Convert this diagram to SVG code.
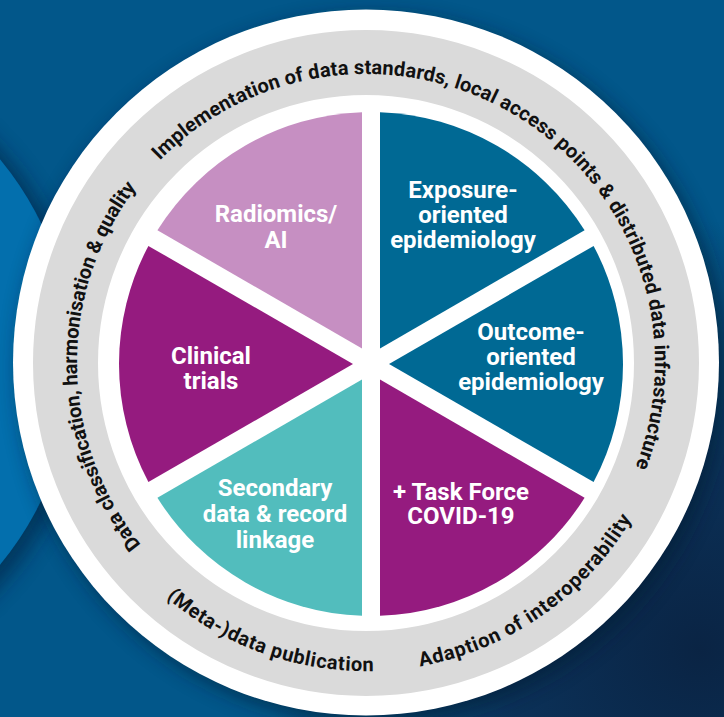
<svg xmlns="http://www.w3.org/2000/svg" width="724" height="717" viewBox="0 0 724 717">
<defs>
<style>
.slice-label{font-family:Roboto,"Liberation Sans",sans-serif;font-weight:700;font-size:24px;fill:#ffffff;text-anchor:middle}
.ring-label{font-family:Roboto,"Liberation Sans",sans-serif;font-weight:700;font-size:20px;fill:#111111;text-anchor:middle}
.ring{fill:none;stroke:#dadada;stroke-width:65}
</style>
<radialGradient id="dark" cx="700" cy="650" r="430" gradientUnits="userSpaceOnUse">
<stop offset="0" stop-color="#0a2444"/>
<stop offset="0.45" stop-color="#0b3158"/>
<stop offset="1" stop-color="#0b3158" stop-opacity="0"/>
</radialGradient>
<filter id="shadow" x="-20%" y="-20%" width="140%" height="140%">
<feGaussianBlur stdDeviation="10"/>
</filter>
<path id="arcOut" d="M366,652 A289,289 0 1,1 366,74 A289,289 0 1,1 366,652"/>
<path id="arcIn" d="M58,363 A308,308 0 1,0 674,363 A308,308 0 1,0 58,363"/>
</defs>

<g id="background">
<rect width="724" height="717" fill="#02578a"/>
<rect width="724" height="717" fill="url(#dark)"/>
<circle cx="-245" cy="362" r="322" fill="#011f3a" opacity="0.55" filter="url(#shadow)" transform="translate(8,6)"/>
<circle cx="-245" cy="362" r="318" fill="#036fad"/>
<circle cx="372" cy="369" r="353" fill="#011a33" opacity="0.6" filter="url(#shadow)"/>
<circle cx="366" cy="362.5" r="353" fill="#ffffff"/>
<circle class="ring" cx="366" cy="363" r="300.5"/>
</g>

<g id="ring-labels">
<text class="ring-label"><textPath href="#arcOut" startOffset="1073" textLength="790" lengthAdjust="spacing">Implementation of data standards, local access points &amp; distributed data infrastructure</textPath></text>
<text class="ring-label"><textPath href="#arcOut" startOffset="450" textLength="385" lengthAdjust="spacing">Data classification, harmonisation &amp; quality</textPath></text>
<text class="ring-label"><textPath href="#arcIn" startOffset="379" textLength="225" lengthAdjust="spacing">(Meta-)data publication</textPath></text>
<text class="ring-label"><textPath href="#arcIn" startOffset="671" textLength="266" lengthAdjust="spacing">Adaption of interoperability</textPath></text>
</g>

<g id="slice-exposure">
<path d="M380,348.41 L380.01,112.16 A252,252 0 0,1 584.59,230.27 Z" fill="#006994"/>
<text class="slice-label"><tspan x="463" y="198">Exposure-</tspan><tspan x="463" y="223">oriented</tspan><tspan x="463" y="248">epidemiology</tspan></text>
</g>
<g id="slice-outcome">
<path d="M389,364 L593.61,245.89 A252,252 0 0,1 593.61,482.11 Z" fill="#006994"/>
<text class="slice-label"><tspan x="531" y="340">Outcome-</tspan><tspan x="531" y="365">oriented</tspan><tspan x="531" y="390">epidemiology</tspan></text>
</g>
<g id="slice-covid">
<path d="M380,379.59 L584.59,497.73 A252,252 0 0,1 380.01,615.84 Z" fill="#951b7f"/>
<text class="slice-label"><tspan x="461" y="500">+ Task Force</tspan><tspan x="461" y="524">COVID-19</tspan></text>
</g>
<g id="slice-secondary">
<path d="M362,379.59 L361.99,615.84 A252,252 0 0,1 157.41,497.73 Z" fill="#52bdbd"/>
<text class="slice-label"><tspan x="275" y="496">Secondary</tspan><tspan x="275" y="522">data &amp; record</tspan><tspan x="275" y="548">linkage</tspan></text>
</g>
<g id="slice-clinical">
<path d="M353,364 L148.4,482.11 A252,252 0 0,1 148.4,245.89 Z" fill="#951b7f"/>
<text class="slice-label"><tspan x="211" y="364">Clinical</tspan><tspan x="211" y="389">trials</tspan></text>
</g>
<g id="slice-radiomics">
<path d="M362,348.41 L157.41,230.27 A252,252 0 0,1 361.99,112.16 Z" fill="#c68fc2"/>
<text class="slice-label"><tspan x="276" y="222">Radiomics/</tspan><tspan x="276" y="248">AI</tspan></text>
</g>

<g id="connectors"></g>
</svg>
